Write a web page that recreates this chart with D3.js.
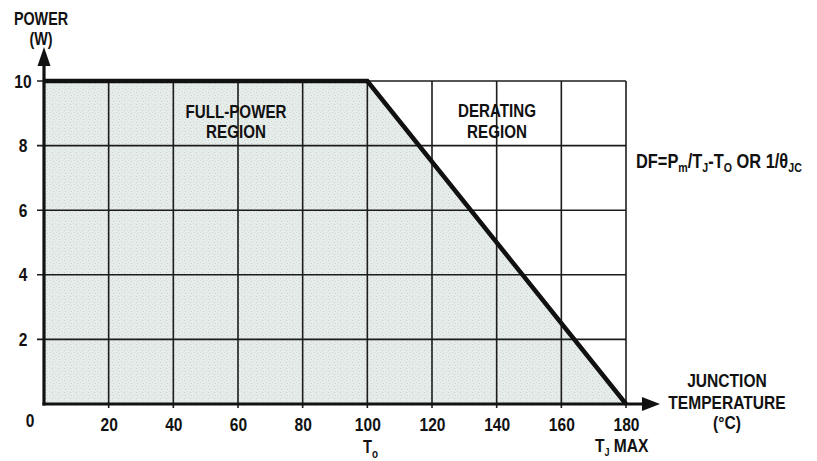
<!DOCTYPE html>
<html>
<head>
<meta charset="utf-8">
<script src="https://cdn.jsdelivr.net/npm/d3@7"></script>
<style>
  html, body { margin: 0; padding: 0; background: #fff; }
  svg { display: block; }
  text { font-family: "Liberation Sans", Arial, sans-serif; font-weight: bold; fill: #111; }
</style>
</head>
<body>
<svg id="chart" width="817" height="461"></svg>
<script>
// Power derating curve: junction temperature (°C) vs. allowed power (W)
const curveTemps = [0, 100, 180];
const curvePower = [10, 10, 0];
const xTicks = [20, 40, 60, 80, 100, 120, 140, 160, 180];
const yTicks = [2, 4, 6, 8, 10];

const svg = d3.select("#chart");

const x = d3.scaleLinear().domain([0, 180]).range([44, 626]);
const y = d3.scaleLinear().domain([0, 10]).range([404, 81]);

// stippled fill for the operating area
const defs = svg.append("defs");
const pat = defs.append("pattern")
  .attr("id", "stipple").attr("patternUnits", "userSpaceOnUse")
  .attr("width", 6).attr("height", 6);
pat.append("rect").attr("width", 6).attr("height", 6).attr("fill", "#e6ecea");
[[1, 1], [4, 2], [2, 4], [5, 5]].forEach(([px, py], i) => {
  pat.append("rect").attr("x", px).attr("y", py).attr("width", 1).attr("height", 1)
    .attr("fill", i % 2 ? "#c8d2ce" : "#d3dcd8");
});

const pts = curveTemps.map((t, i) => [t, curvePower[i]]);

// shaded area under the curve
svg.append("path")
  .datum(pts)
  .attr("fill", "url(#stipple)")
  .attr("d", d3.area().x(d => x(d[0])).y0(y(0)).y1(d => y(d[1])));

// grid
const grid = svg.append("g").attr("stroke", "#1c1c1c").attr("stroke-width", 1.6);
grid.selectAll("line.v").data(xTicks).join("line")
  .attr("x1", d => x(d)).attr("x2", d => x(d))
  .attr("y1", y(10)).attr("y2", y(0) + 4);
grid.selectAll("line.h").data(yTicks).join("line")
  .attr("x1", x(0) - 7).attr("x2", x(180))
  .attr("y1", d => y(d)).attr("y2", d => y(d));

// axis lines with arrowheads
const axes = svg.append("g").attr("stroke", "#111").attr("stroke-width", 3.2).attr("fill", "none");
axes.append("line").attr("x1", x(0)).attr("x2", x(0)).attr("y1", y(0) + 1.5).attr("y2", 60);
axes.append("line").attr("x1", x(0) - 1.5).attr("x2", 648).attr("y1", y(0)).attr("y2", y(0));
svg.append("path").attr("fill", "#111")
  .attr("d", `M${x(0)},47 L${x(0) - 6.5},66 L${x(0) + 6.5},66 Z`);
svg.append("path").attr("fill", "#111")
  .attr("d", `M660,${y(0)} L642,${y(0) - 7} L642,${y(0) + 7} Z`);

// power curve
svg.append("path")
  .datum(pts)
  .attr("fill", "none").attr("stroke", "#111").attr("stroke-width", 4.5)
  .attr("stroke-linejoin", "miter")
  .attr("d", d3.line().x(d => x(d[0])).y(d => y(d[1])));

// tick labels via d3 axes
const xAxis = svg.append("g").attr("transform", `translate(0,${y(0)})`)
  .call(d3.axisBottom(x).tickValues(xTicks).tickSize(0).tickPadding(14));
const yAxis = svg.append("g").attr("transform", `translate(${x(0)},0)`)
  .call(d3.axisLeft(y).tickValues(yTicks).tickSize(0).tickPadding(20));
[xAxis, yAxis].forEach(g => {
  g.select(".domain").remove();
  g.selectAll("text").attr("font-size", 19).attr("font-family", null).attr("fill", "#111");
});
yAxis.selectAll("text").attr("text-anchor", "middle").attr("x", 23 - x(0));
xAxis.selectAll("text").attr("dy", "0.71em");

svg.append("text").attr("x", 30).attr("y", 427).attr("text-anchor", "middle")
  .attr("font-size", 19).text("0");

// titles and annotations
function label(lines, cx, baselines, size) {
  lines.forEach((t, i) => {
    svg.append("text").attr("x", cx).attr("y", baselines[i])
      .attr("text-anchor", "middle").attr("font-size", size).text(t);
  });
}
label(["POWER", "(W)"], 41, [25, 45], 17.5);
label(["FULL-POWER", "REGION"], 236, [118, 138], 18.5);
label(["DERATING", "REGION"], 497, [117, 138], 18.5);
label(["JUNCTION", "TEMPERATURE", "(°C)"], 727, [387, 409, 429], 19);

// T_O under 100, T_J MAX under 180
const to = svg.append("text").attr("x", 363).attr("y", 453).attr("font-size", 18);
to.append("tspan").text("T");
to.append("tspan").attr("font-size", 12).attr("dy", 5).text("o");

const tj = svg.append("text").attr("x", 595).attr("y", 452).attr("font-size", 19);
tj.append("tspan").text("T");
tj.append("tspan").attr("font-size", 11).attr("dy", 4).text("J");
tj.append("tspan").attr("dy", -4).text(" MAX");

// derating factor formula
const df = svg.append("text").attr("x", 636).attr("y", 168).attr("font-size", 20);
df.append("tspan").text("DF=P");
df.append("tspan").attr("font-size", 13).attr("dy", 4).text("m");
df.append("tspan").attr("dy", -4).text("/T");
df.append("tspan").attr("font-size", 13).attr("dy", 4).text("J");
df.append("tspan").attr("dy", -4).text("-T");
df.append("tspan").attr("font-size", 13).attr("dy", 4).text("O");
df.append("tspan").attr("dy", -4).text(" OR 1/θ");
df.append("tspan").attr("font-size", 13).attr("dy", 4).text("JC");

// narrow the lettering horizontally (condensed face look), keeping anchors in place
const squeeze = 0.82;
svg.selectAll("text").each(function () {
  const t = d3.select(this);
  const xv = +(t.attr("x") || 0);
  t.attr("x", xv / squeeze).attr("transform", `scale(${squeeze},1)`);
});
</script>
</body>
</html>
